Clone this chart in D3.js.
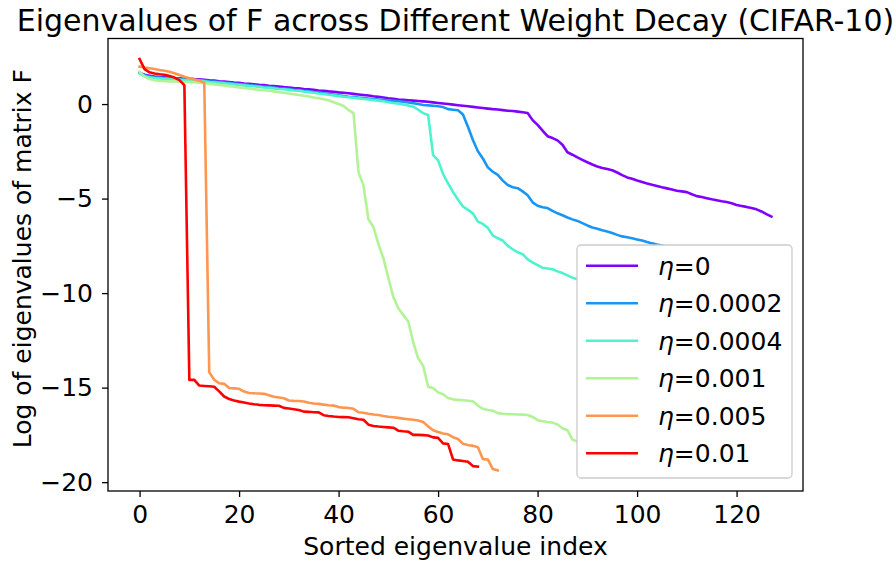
<!DOCTYPE html>
<html>
<head>
<meta charset="utf-8">
<script src="https://cdn.jsdelivr.net/npm/d3@7"></script>
<style>
  body { margin: 0; background: #fff; }
  text { font-family: "DejaVu Sans", sans-serif; fill: #000; }
</style>
</head>
<body>
<svg id="chart" width="896" height="563"></svg>
<script>
// log eigenvalues per weight decay, index = sorted eigenvalue index
const eta0 = [
  1.65, 1.55, 1.50, 1.45, 1.43, 1.41, 1.39, 1.37, 1.36, 1.35,
  1.34, 1.32, 1.31, 1.29, 1.26, 1.24, 1.21, 1.19, 1.17, 1.14,
  1.12, 1.09, 1.07, 1.05, 1.02, 1.00, 0.97, 0.95, 0.93, 0.90,
  0.88, 0.85, 0.83, 0.80, 0.78, 0.75, 0.72, 0.70, 0.67, 0.65,
  0.62, 0.60, 0.57, 0.54, 0.51, 0.48, 0.45, 0.41, 0.38, 0.35,
  0.31, 0.28, 0.24, 0.22, 0.20, 0.18, 0.16, 0.14, 0.12, 0.09,
  0.06, 0.03, 0.00, -0.03, -0.06, -0.09, -0.12, -0.15, -0.18, -0.21,
  -0.24, -0.27, -0.29, -0.32, -0.35, -0.37, -0.40, -0.43, -0.47, -0.85,
  -1.10, -1.40, -1.70, -1.80, -1.92, -2.15, -2.55, -2.68, -2.82, -2.95,
  -3.08, -3.20, -3.30, -3.38, -3.44, -3.50, -3.62, -3.76, -3.88, -3.95,
  -4.04, -4.12, -4.20, -4.27, -4.33, -4.40, -4.46, -4.52, -4.59, -4.62,
  -4.66, -4.77, -4.87, -4.92, -4.98, -5.04, -5.09, -5.14, -5.18, -5.25,
  -5.34, -5.39, -5.44, -5.50, -5.57, -5.68, -5.82, -5.95
];
const eta0002 = [
  1.65, 1.52, 1.46, 1.42, 1.40, 1.38, 1.36, 1.35, 1.33, 1.31,
  1.30, 1.28, 1.27, 1.24, 1.21, 1.19, 1.16, 1.14, 1.11, 1.08,
  1.06, 1.03, 1.00, 0.98, 0.95, 0.92, 0.90, 0.87, 0.84, 0.82,
  0.79, 0.76, 0.74, 0.70, 0.67, 0.64, 0.60, 0.57, 0.53, 0.50,
  0.46, 0.43, 0.39, 0.37, 0.34, 0.32, 0.29, 0.27, 0.24, 0.22,
  0.19, 0.17, 0.15, 0.12, 0.08, 0.04, 0.00, -0.05, -0.07, -0.09,
  -0.12, -0.16, -0.27, -0.30, -0.33, -0.55, -1.20, -1.90, -2.50, -2.88,
  -3.35, -3.58, -3.75, -4.05, -4.28, -4.40, -4.45, -4.62, -4.82, -5.20,
  -5.38, -5.46, -5.50, -5.65, -5.78, -5.88, -6.00, -6.10, -6.18, -6.30,
  -6.42, -6.53, -6.60, -6.68, -6.74, -6.82, -6.92, -7.00, -7.05, -7.10,
  -7.16, -7.22, -7.30, -7.37, -7.43, -7.48, -7.55, -7.60, -7.65, -7.70,
  -7.76, -7.82, -7.88, -7.93, -7.98, -8.04, -8.10, -8.15, -8.20, -8.26,
  -8.32, -8.38, -8.45, -8.52, -8.60, -8.68, -8.78, -8.90
];
const eta0004 = [
  1.62, 1.47, 1.41, 1.38, 1.36, 1.34, 1.32, 1.31, 1.29, 1.27,
  1.26, 1.24, 1.23, 1.20, 1.17, 1.15, 1.12, 1.10, 1.07, 1.04,
  1.02, 0.99, 0.96, 0.94, 0.91, 0.88, 0.86, 0.83, 0.80, 0.78,
  0.75, 0.72, 0.70, 0.66, 0.63, 0.60, 0.56, 0.53, 0.49, 0.46,
  0.42, 0.39, 0.36, 0.33, 0.30, 0.27, 0.24, 0.21, 0.18, 0.15,
  0.10, 0.06, 0.02, -0.02, -0.07, -0.14, -0.30, -0.48, -0.58, -2.70,
  -2.98, -3.70, -4.20, -4.65, -5.05, -5.42, -5.60, -5.78, -6.22, -6.34,
  -6.55, -6.95, -7.10, -7.22, -7.50, -7.68, -7.84, -7.94, -8.22, -8.38,
  -8.52, -8.66, -8.70, -8.74, -8.85, -8.94, -9.06, -9.18, -9.27, -9.35,
  -9.42, -9.50, -9.58, -9.65, -9.72, -9.80, -9.88, -9.95, -10.02, -10.10,
  -10.18, -10.25, -10.32, -10.40, -10.48, -10.55, -10.62, -10.70, -10.78, -10.85,
  -10.92, -11.00, -11.08, -11.15, -11.22, -11.30, -11.38, -11.45, -11.52, -11.60,
  -11.68, -11.75, -11.84, -11.92, -12.02, -12.12, -12.25, -12.40
];
const eta001 = [
  1.71, 1.45, 1.32, 1.26, 1.23, 1.21, 1.20, 1.19, 1.18, 1.17,
  1.16, 1.15, 1.13, 1.10, 1.07, 1.04, 1.01, 0.98, 0.95, 0.92,
  0.88, 0.85, 0.82, 0.79, 0.76, 0.73, 0.70, 0.67, 0.63, 0.60,
  0.56, 0.52, 0.48, 0.44, 0.40, 0.35, 0.31, 0.26, 0.20, 0.10,
  0.00, -0.10, -0.32, -0.48, -3.60, -4.30, -6.10, -6.50, -7.40, -8.15,
  -9.20, -10.20, -10.80, -11.15, -11.50, -12.60, -13.45, -13.85, -14.95, -15.02,
  -15.25, -15.35, -15.55, -15.62, -15.65, -15.67, -15.69, -15.72, -15.95, -16.12,
  -16.18, -16.22, -16.35, -16.38, -16.40, -16.41, -16.42, -16.43, -16.45, -16.55,
  -16.72, -16.78, -16.82, -16.85, -16.95, -17.15, -17.25, -17.75, -17.85, -17.92,
  -18.00, -18.10, -18.20, -18.35, -18.50, -18.70
];
const eta005 = [
  1.98, 1.93, 1.89, 1.85, 1.80, 1.76, 1.71, 1.63, 1.54, 1.44,
  1.36, 1.30, 1.24, 1.13, -14.19, -14.58, -14.77, -14.80, -15.02, -15.04,
  -15.06, -15.21, -15.28, -15.30, -15.31, -15.33, -15.40, -15.48, -15.52, -15.56,
  -15.68, -15.70, -15.71, -15.73, -15.80, -15.84, -15.86, -15.90, -15.93, -15.95,
  -16.03, -16.06, -16.08, -16.12, -16.30, -16.33, -16.38, -16.42, -16.45, -16.50,
  -16.54, -16.57, -16.60, -16.64, -16.67, -16.70, -16.74, -16.82, -17.05, -17.26,
  -17.35, -17.43, -17.47, -17.62, -17.72, -17.97, -18.03, -18.08, -18.15, -18.78,
  -18.80, -19.31, -19.38
];
const eta01 = [
  2.38, 1.85, 1.68, 1.62, 1.58, 1.55, 1.48, 1.40, 1.27, 1.00,
  -14.59, -14.59, -14.89, -14.91, -14.93, -14.95, -15.20, -15.47, -15.60, -15.68,
  -15.74, -15.79, -15.84, -15.88, -15.91, -15.93, -15.94, -15.95, -15.96, -16.07,
  -16.10, -16.14, -16.18, -16.27, -16.28, -16.30, -16.31, -16.46, -16.50, -16.53,
  -16.55, -16.56, -16.57, -16.62, -16.67, -16.70, -16.96, -17.03, -17.06, -17.08,
  -17.10, -17.12, -17.28, -17.31, -17.33, -17.50, -17.50, -17.51, -17.53, -17.63,
  -17.66, -17.95, -17.98, -18.80, -18.85, -18.88, -18.92, -19.15, -19.18
];

const seriesValues = [eta0, eta0002, eta0004, eta001, eta005, eta01];
const seriesLabels = ["0", "0.0002", "0.0004", "0.001", "0.005", "0.01"];
const seriesColors = ["#8000ff", "#1996f3", "#4df3ce", "#b2f396", "#ff964f", "#ff0000"];
const xTicks = [0, 20, 40, 60, 80, 100, 120];
const yTicks = [0, -5, -10, -15, -20];

const width = 896, height = 563;
const margin = { left: 108, right: 93, top: 38.5, bottom: 72 };
const svg = d3.select("#chart");

// matplotlib-style 5% padding around the data
const maxLen = d3.max(seriesValues, s => s.length) - 1;
const allVals = seriesValues.flat();
const yMin = d3.min(allVals), yMax = d3.max(allVals);
const xPad = maxLen * 0.05, yPad = (yMax - yMin) * 0.05;

const x = d3.scaleLinear()
    .domain([-xPad, maxLen + xPad])
    .range([margin.left, width - margin.right]);
const y = d3.scaleLinear()
    .domain([yMin - yPad, yMax + yPad])
    .range([height - margin.bottom, margin.top]);

const fontSize = 25;

// lines
const line = d3.line()
    .x((d, i) => x(i))
    .y(d => y(d));

svg.append("g")
    .selectAll("path")
    .data(seriesValues)
    .enter().append("path")
    .attr("d", d => line(d))
    .attr("fill", "none")
    .attr("stroke", (d, i) => seriesColors[i])
    .attr("stroke-width", 2.6)
    .attr("stroke-linejoin", "round")
    .attr("stroke-linecap", "square");

// axes
const xAxis = svg.append("g")
    .attr("transform", `translate(0,${height - margin.bottom})`)
    .call(d3.axisBottom(x).tickValues(xTicks).tickSize(6).tickPadding(8));
const yAxis = svg.append("g")
    .attr("transform", `translate(${margin.left},0)`)
    .call(d3.axisLeft(y).tickValues(yTicks).tickSize(6).tickPadding(9));

[xAxis, yAxis].forEach(g => {
    g.select(".domain").remove();
    g.selectAll(".tick line").attr("stroke", "#000").attr("stroke-width", 1.3);
    g.selectAll(".tick text")
        .style("font-family", "'DejaVu Sans', sans-serif")
        .style("font-size", fontSize + "px")
        .attr("fill", "#000");
});

// frame
svg.append("rect")
    .attr("x", margin.left)
    .attr("y", margin.top)
    .attr("width", width - margin.left - margin.right)
    .attr("height", height - margin.top - margin.bottom)
    .attr("fill", "none")
    .attr("stroke", "#000")
    .attr("stroke-width", 1.3);

// title and labels
const cx = (margin.left + width - margin.right) / 2;
svg.append("text")
    .attr("x", cx)
    .attr("y", 31)
    .attr("text-anchor", "middle")
    .style("font-size", "30px")
    .text("Eigenvalues of F across Different Weight Decay (CIFAR-10)");

svg.append("text")
    .attr("x", cx)
    .attr("y", 555)
    .attr("text-anchor", "middle")
    .style("font-size", fontSize + "px")
    .text("Sorted eigenvalue index");

svg.append("text")
    .attr("transform", `translate(31,${(margin.top + height - margin.bottom) / 2 - 6}) rotate(-90)`)
    .attr("text-anchor", "middle")
    .style("font-size", fontSize + "px")
    .text("Log of eigenvalues of matrix F");

// legend (opaque box hides the lines behind it)
const legend = svg.append("g").attr("transform", "translate(577,245)");
legend.append("rect")
    .attr("width", 215)
    .attr("height", 233)
    .attr("rx", 4)
    .attr("fill", "#fff")
    .attr("stroke", "#cccccc")
    .attr("stroke-width", 1.3);

const rows = legend.selectAll(".row")
    .data(seriesLabels)
    .enter().append("g")
    .attr("class", "row")
    .attr("transform", (d, i) => `translate(0,${20.7 + i * 37.5})`);

rows.append("line")
    .attr("x1", 9).attr("x2", 61)
    .attr("stroke", (d, i) => seriesColors[i])
    .attr("stroke-width", 2.6);

const lt = rows.append("text")
    .attr("x", 81)
    .attr("dy", "0.36em")
    .style("font-size", fontSize + "px");
lt.append("tspan").style("font-style", "italic").text("η");
lt.append("tspan").text(d => "=" + d);
</script>
</body>
</html>
